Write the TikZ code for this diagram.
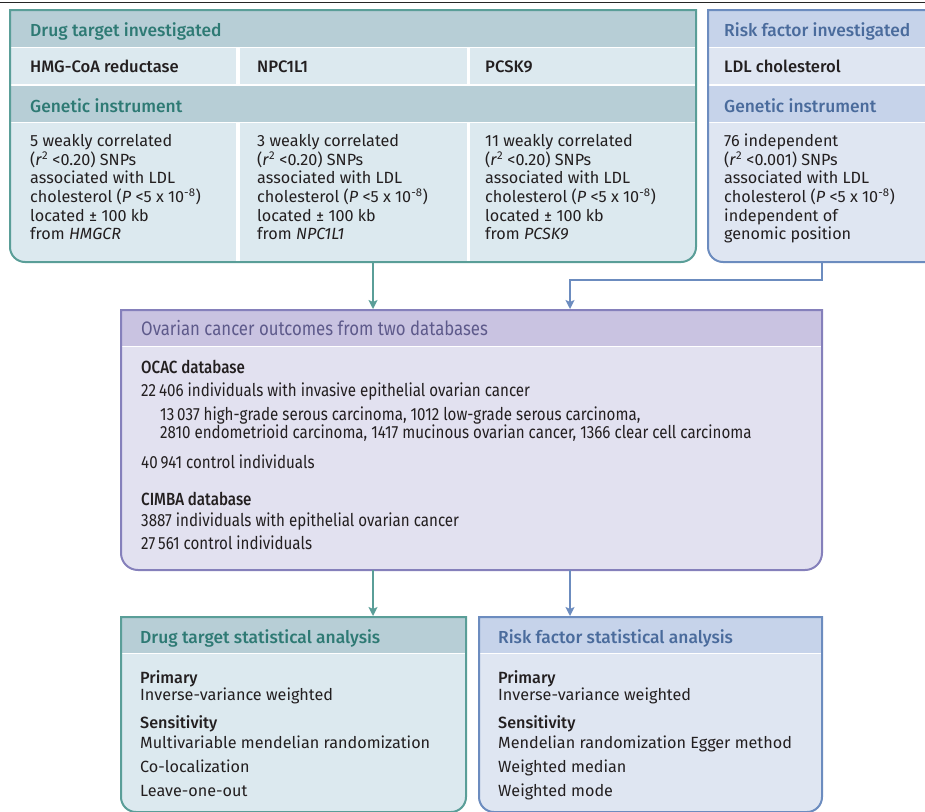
\documentclass[tikz,border=0pt]{standalone}
\usepackage{fontspec}
\setmainfont{Fira Sans}[BoldFont={Fira Sans Medium}]
\newfontfamily\condfont{Fira Sans}[FakeStretch=0.86, BoldFont={Fira Sans Medium}]
\usetikzlibrary{arrows.meta}
\definecolor{tealHead}{HTML}{B7CED6}
\definecolor{tealBody}{HTML}{DCE9EF}
\definecolor{tealLine}{HTML}{5A9E98}
\definecolor{tealText}{HTML}{2E7A74}
\definecolor{blueHead}{HTML}{C6D3EA}
\definecolor{blueBody}{HTML}{DFE6F2}
\definecolor{blueLine}{HTML}{6C8CBF}
\definecolor{blueText}{HTML}{4A6B9C}
\definecolor{purHead}{HTML}{C9C3E1}
\definecolor{purBody}{HTML}{E2E1F0}
\definecolor{purLine}{HTML}{8580BB}
\definecolor{purText}{HTML}{5E5A8B}
\definecolor{inkText}{HTML}{231F20}
% box with square top corners and rounded bottom corners
\newcommand{\rbox}[6]{\path[#1] (#2,#3) -- (#4,#3) -- (#4,#5-#6) arc[start angle=0,end angle=90,radius=#6] -- (#2+#6,#5) arc[start angle=90,end angle=180,radius=#6] -- cycle;}
\tikzset{
  hdr/.style={anchor=base west, inner sep=0pt, font=\fontsize{17.4}{20}\selectfont\bfseries},
  ovhdr/.style={anchor=base west, inner sep=0pt, font=\condfont\fontsize{19.5}{22}\selectfont},
  rowtxt/.style={anchor=base west, inner sep=0pt, text=inkText, font=\fontsize{16.6}{20}\selectfont\bfseries},
  bodytxt/.style={anchor=base west, inner sep=0pt, text=inkText, font=\fontsize{16.2}{19}\selectfont},
  subhead/.style={anchor=base west, inner sep=0pt, text=inkText, font=\fontsize{16.2}{19}\selectfont\bfseries},
  ovtxt/.style={anchor=base west, inner sep=0pt, text=inkText, font=\condfont\fontsize{17.6}{20}\selectfont},
  ovsub/.style={anchor=base west, inner sep=0pt, text=inkText, font=\condfont\fontsize{17.6}{20}\selectfont\bfseries},
  hsep/.style={white, line width=1.5pt},
  vsep/.style={white, line width=3.5pt},
  tarrow/.style={draw=tealLine, line width=1.6pt, -{Stealth[length=9pt,width=9pt,inset=2pt]}},
  barrow/.style={draw=blueLine, line width=1.6pt, -{Stealth[length=9pt,width=9pt,inset=2pt]}},
}
\begin{document}
\begin{tikzpicture}[x=1pt,y=-1pt]
\useasboundingbox (0,0) rectangle (925,811);
\clip (0,0) rectangle (925,811);
\draw[black!85, line width=1.6pt] (0,2.5) -- (925,2.5);

% ---------- top left box: drug target ----------
\rbox{fill=tealBody}{10}{10}{696}{262}{15}
\fill[tealHead] (10,10) rectangle (696,47);
\fill[tealHead] (10,85) rectangle (696,122);
\draw[hsep] (10,47.5) -- (696,47.5);
\draw[hsep, line width=2pt] (10,84.5) -- (696,84.5);
\draw[hsep] (10,122.5) -- (696,122.5);
\draw[vsep] (238,48) -- (238,84);
\draw[vsep] (238,123) -- (238,262);
\draw[vsep] (468.5,48) -- (468.5,84);
\draw[vsep] (468.5,123) -- (468.5,262);
\rbox{draw=tealLine, line width=2pt}{10}{10}{696}{262}{15}

% ---------- top right box: risk factor ----------
\rbox{fill=blueBody}{708}{10}{945}{262}{15}
\fill[blueHead] (708,10) rectangle (945,47);
\fill[blueHead] (708,85) rectangle (945,122);
\draw[hsep] (708,47.5) -- (945,47.5);
\draw[hsep, line width=2pt] (708,84.5) -- (945,84.5);
\draw[hsep] (708,122.5) -- (945,122.5);
\rbox{draw=blueLine, line width=2pt}{708}{10}{945}{262}{15}

% ---------- ovarian box ----------
\rbox{fill=purBody}{121}{310}{822}{570}{17}
\fill[purHead] (121,310) rectangle (822,346);
\draw[hsep] (121,346.5) -- (822,346.5);
\rbox{draw=purLine, line width=2pt}{121}{310}{822}{570}{17}

% ---------- bottom left box ----------
\rbox{fill=tealBody}{121}{617}{466}{812}{15}
\fill[tealHead] (121,617) rectangle (466,653);
\draw[hsep] (121,653.5) -- (466,653.5);
\rbox{draw=tealLine, line width=2pt}{121}{617}{466}{812}{15}

% ---------- bottom right box ----------
\rbox{fill=blueBody}{479}{617}{822}{812}{15}
\fill[blueHead] (479,617) rectangle (822,653);
\draw[hsep] (479,653.5) -- (822,653.5);
\rbox{draw=blueLine, line width=2pt}{479}{617}{822}{812}{15}

% ---------- connector points ----------
\coordinate (drugOut) at (373,262);
\coordinate (riskOut) at (822,262);
\coordinate (ovInL) at (373,309);
\coordinate (ovInR) at (570,309);
\coordinate (bend) at (570,280);
\coordinate (ovOutL) at (373,570);
\coordinate (ovOutR) at (570,570);
\coordinate (dsIn) at (373,616);
\coordinate (rsIn) at (570,616);

\draw[tarrow] (drugOut) -- (ovInL);
\draw[barrow] (riskOut) |- (bend) -- (ovInR);
\draw[tarrow] (ovOutL) -- (dsIn);
\draw[barrow] (ovOutR) -- (rsIn);

% ---------- texts: drug target ----------
\node[hdr, text=tealText] (dtHead) at (30,36) {Drug target investigated};
\node[rowtxt] (hmg) at (30,72) {HMG-CoA reductase};
\node[rowtxt] (npc) at (257,72) {NPC1L1};
\node[rowtxt] (pcsk) at (485,72) {PCSK9};
\node[hdr, text=tealText] (giL) at (30,112) {Genetic instrument};
\foreach \t [count=\i] in {5 weakly correlated, {(\textit{r}\textsuperscript{2} <0.20) SNPs}, associated with LDL, {cholesterol (\textit{P} <5 x 10\textsuperscript{-8})}, located ± 100 kb, {from \textit{HMGCR}}}
  \node[bodytxt] (hm\i) at (30,{146.7+18.6*(\i-1)}) {\t};
\foreach \t [count=\i] in {3 weakly correlated, {(\textit{r}\textsuperscript{2} <0.20) SNPs}, associated with LDL, {cholesterol (\textit{P} <5 x 10\textsuperscript{-8})}, located ± 100 kb, {from \textit{NPC1L1}}}
  \node[bodytxt] (np\i) at (257,{146.7+18.6*(\i-1)}) {\t};
\foreach \t [count=\i] in {11 weakly correlated, {(\textit{r}\textsuperscript{2} <0.20) SNPs}, associated with LDL, {cholesterol (\textit{P} <5 x 10\textsuperscript{-8})}, located ± 100 kb, {from \textit{PCSK9}}}
  \node[bodytxt] (pc\i) at (485,{146.7+18.6*(\i-1)}) {\t};

% ---------- texts: risk factor ----------
\node[hdr, text=blueText] (rfHead) at (724,36) {Risk factor investigated};
\node[rowtxt] (ldl) at (724,72) {LDL cholesterol};
\node[hdr, text=blueText] (giR) at (724,112) {Genetic instrument};
\foreach \t [count=\i] in {76 independent, {(\textit{r}\textsuperscript{2} <0.001) SNPs}, associated with LDL, {cholesterol (\textit{P} <5 x 10\textsuperscript{-8})}, independent of, genomic position}
  \node[bodytxt] (rf\i) at (724,{146.7+18.6*(\i-1)}) {\t};

% ---------- texts: ovarian ----------
\node[ovhdr, text=purText] (ovHead) at (141,335) {Ovarian cancer outcomes from two databases};
\node[ovsub] (ocac) at (141,373) {OCAC database};
\node[ovtxt] (oc1) at (141,396) {22\,406 individuals with invasive epithelial ovarian cancer};
\node[ovtxt] (oc2) at (160,420) {13\,037 high-grade serous carcinoma, 1012 low-grade serous carcinoma,};
\node[ovtxt] (oc3) at (160,438) {2810 endometrioid carcinoma, 1417 mucinous ovarian cancer, 1366 clear cell carcinoma};
\node[ovtxt] (oc4) at (141,468) {40\,941 control individuals};
\node[ovsub] (cimba) at (141,505) {CIMBA database};
\node[ovtxt] (ci1) at (141,526) {3887 individuals with epithelial ovarian cancer};
\node[ovtxt] (ci2) at (141,549) {27\,561 control individuals};

% ---------- texts: bottom boxes ----------
\node[hdr, text=tealText] (dsHead) at (140,643) {Drug target statistical analysis};
\node[subhead] (dsP) at (140,683) {Primary};
\node[bodytxt] (dsP1) at (140,700) {Inverse-variance weighted};
\node[subhead] (dsS) at (140,728) {Sensitivity};
\node[bodytxt] (dsS1) at (140,748) {Multivariable mendelian randomization};
\node[bodytxt] (dsS2) at (140,772) {Co-localization};
\node[bodytxt] (dsS3) at (140,796) {Leave-one-out};

\node[hdr, text=blueText] (rsHead) at (498,643) {Risk factor statistical analysis};
\node[subhead] (rsP) at (498,683) {Primary};
\node[bodytxt] (rsP1) at (498,700) {Inverse-variance weighted};
\node[subhead] (rsS) at (498,728) {Sensitivity};
\node[bodytxt] (rsS1) at (498,748) {Mendelian randomization Egger method};
\node[bodytxt] (rsS2) at (498,772) {Weighted median};
\node[bodytxt] (rsS3) at (498,796) {Weighted mode};
\end{tikzpicture}
\end{document}
